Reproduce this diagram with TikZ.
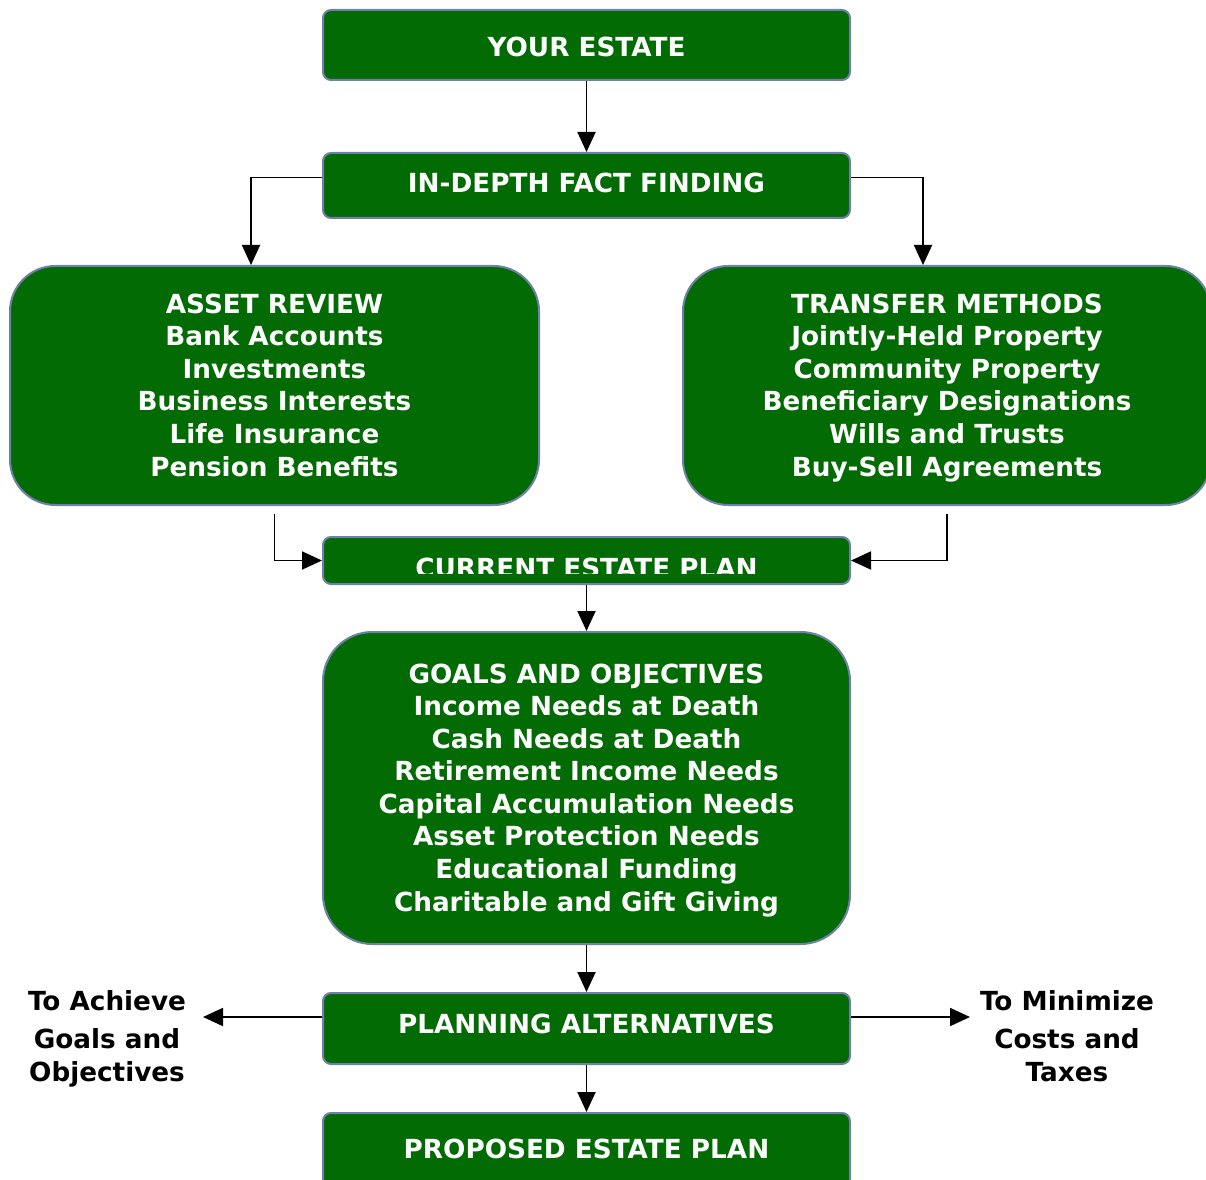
\documentclass[tikz,border=0pt]{standalone}
\usepackage{fontspec}
\setmainfont{DejaVu Sans}
\usetikzlibrary{arrows.meta}
\definecolor{boxgreen}{RGB}{3,107,3}
\definecolor{boxedge}{RGB}{112,128,168}
\tikzset{
  gbox/.style={draw=boxedge, line width=1.5pt, fill=boxgreen, rounded corners=6pt, inner sep=0pt},
  bigbox/.style={gbox, rounded corners=34pt},
  wtxt/.style={text=white, font=\fontsize{19.7}{24.4}\selectfont\bfseries, align=center, inner sep=0pt},
  btxt/.style={text=black, font=\fontsize{19.7}{24.4}\selectfont\bfseries, align=center, inner sep=0pt},
  conn/.style={line width=1.4pt, -{Triangle[length=15pt,width=13.5pt]}},
}
\begin{document}
\begin{tikzpicture}[x=0.75pt,y=-0.75pt]
\useasboundingbox (0,0) rectangle (1206,1180);
\clip (0,0) rectangle (1206,1180);
% boxes
\node[gbox, minimum width=395.25pt, minimum height=52.5pt] (estate) at (586.5,45) {};
\node[wtxt, anchor=base] (estatet) at (586.5,57) {YOUR ESTATE};
\node[gbox, minimum width=395.25pt, minimum height=48.75pt] (fact) at (586.5,185.5) {};
\node[wtxt, anchor=base] (factt) at (586.5,193) {IN-DEPTH FACT FINDING};
\node[bigbox, minimum width=396.75pt, minimum height=179.25pt] (asset) at (274.5,385.5) {};
\node[wtxt, anchor=base] (assett) at (274.5,476) {ASSET REVIEW\\Bank Accounts\\Investments\\Business Interests\\Life Insurance\\Pension Benefits};
\node[bigbox, minimum width=396pt, minimum height=179.25pt] (transfer) at (947,385.5) {};
\node[wtxt, anchor=base] (transfert) at (947,476) {TRANSFER METHODS\\Jointly-Held Property\\Community Property\\Beneficiary Designations\\Wills and Trusts\\Buy-Sell Agreements};
\node[gbox, minimum width=395.25pt, minimum height=35.25pt] (current) at (586.5,560.5) {};
\begin{scope}
\clip (323,537) rectangle (850,573.5);
\node[wtxt, anchor=base] (currentt) at (586.5,577) {CURRENT ESTATE PLAN};
\end{scope}
\node[bigbox, rounded corners=37pt, minimum width=395.25pt, minimum height=234pt] (goals) at (586.5,788) {};
\node[wtxt, anchor=base] (goalst) at (586.5,911) {GOALS AND OBJECTIVES\\Income Needs at Death\\Cash Needs at Death\\Retirement Income Needs\\Capital Accumulation Needs\\Asset Protection Needs\\Educational Funding\\Charitable and Gift Giving};
\node[gbox, minimum width=395.25pt, minimum height=53.25pt] (plan) at (586.5,1028.5) {};
\node[wtxt, anchor=base] (plant) at (586.5,1033) {PLANNING ALTERNATIVES};
\node[gbox, minimum width=395.25pt, minimum height=57.75pt] (prop) at (586.5,1151.5) {};
\node[wtxt, anchor=base] (propt) at (586.5,1158) {PROPOSED ESTATE PLAN};
% side texts
\node[btxt, anchor=base] (achieve) at (107,1081) {To Achieve\\[4pt]Goals and\\Objectives};
\node[btxt, anchor=base] (minimize) at (1067,1081) {To Minimize\\[4pt]Costs and\\Taxes};
\coordinate (la) at (203,1017);
\coordinate (ra) at (970,1017);
% connectors
\draw[conn] (estate) -- (fact);
\draw[conn] ([yshift=6pt]fact.west) -| (asset.north -| 251,0);
\draw[conn] ([yshift=6pt]fact.east) -| (transfer.north -| 923,0);
\draw[conn] ([yshift=-6pt]asset.south) |- (current.west);
\draw[conn] ([yshift=-6pt]transfer.south) |- (current.east);
\draw[conn] (current) -- (goals);
\draw[conn] (goals) -- (plan);
\draw[conn] ([yshift=8.6pt]plan.west) -- (la);
\draw[conn] ([yshift=8.6pt]plan.east) -- (ra);
\draw[conn] (plan) -- (prop);
\end{tikzpicture}
\end{document}
